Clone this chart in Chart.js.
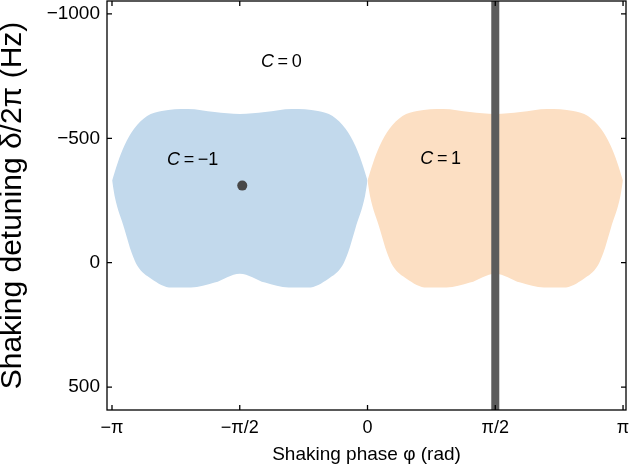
<!DOCTYPE html>
<html>
<head>
<meta charset="utf-8">
<script src="https://cdn.jsdelivr.net/npm/chart.js@4.4.1/dist/chart.umd.min.js"></script>
<style>body{margin:0;background:#fff}</style>
</head>
<body>
<canvas id="myChart" width="629" height="468"></canvas>
<script>
// C = -1 region (blue), upper and lower edges
var blueUpperX = [-3.14, -3.07, -2.99, -2.87, -2.71, -2.53, -2.21, -1.88, -1.57, -1.26, -0.93, -0.61, -0.43, -0.27, -0.15, -0.07, 0];
var blueUpperY = [-330, -403, -470, -538, -590, -610, -618, -606, -598, -606, -618, -610, -590, -538, -470, -403, -330];
var blueLowerX = [-3.14, -3.11, -2.99, -2.90, -2.83, -2.66, -2.41, -2.17, -1.88, -1.57, -1.26, -0.97, -0.73, -0.48, -0.31, -0.24, -0.15, -0.03, 0];
var blueLowerY = [-330, -269, -137, -40, 12, 64, 100, 100, 80, 44, 80, 100, 100, 64, 12, -40, -137, -269, -330];

// C = 1 region (orange)
var orangeUpperX = [0, 0.07, 0.15, 0.27, 0.43, 0.61, 0.93, 1.26, 1.57, 1.88, 2.21, 2.53, 2.71, 2.87, 2.99, 3.07, 3.14];
var orangeUpperY = [-330, -403, -470, -538, -590, -610, -618, -606, -598, -606, -618, -610, -590, -538, -470, -403, -330];
var orangeLowerX = [0, 0.03, 0.15, 0.24, 0.31, 0.48, 0.73, 0.97, 1.26, 1.57, 1.88, 2.17, 2.41, 2.66, 2.83, 2.90, 2.99, 3.11, 3.14];
var orangeLowerY = [-330, -269, -137, -40, 12, 64, 100, 100, 80, 44, 80, 100, 100, 64, 12, -40, -137, -269, -330];

// measured point and the phase cut at pi/2
var dotX = [-1.54];
var dotY = [-310];
var cutX = [Math.PI / 2, Math.PI / 2];
var cutY = [-1052, 592];

var xTickValues = [-Math.PI, -Math.PI / 2, 0, Math.PI / 2, Math.PI];
var xTickLabels = ["\u2212\u03c0", "\u2212\u03c0/2", "0", "\u03c0/2", "\u03c0"];
var yTickValues = [-1000, -500, 0, 500];

var regionLabels = [
    { x: -1.06, y: -807, text: "0" },
    { x: -2.15, y: -414, text: "\u22121" },
    { x: 0.90, y: -416, text: "1" }
];

let pts = (xs, ys) => xs.map((x, i) => ({ x: x, y: ys[i] }));

Chart.defaults.font.family = "'Liberation Sans', Arial, sans-serif";
Chart.defaults.color = "#000";

// frame + inward ticks on all four sides, and the C labels
const framePlugin = {
    id: "frame",
    afterDatasetsDraw(chart) {
        const ctx = chart.ctx;
        const a = chart.chartArea;
        const xs = chart.scales.x, ys = chart.scales.y;
        ctx.save();
        ctx.strokeStyle = "#000";
        ctx.lineWidth = 1.3;
        ctx.strokeRect(a.left, a.top, a.right - a.left, a.bottom - a.top);
        const tl = 5;
        ctx.beginPath();
        xTickValues.forEach((v) => {
            const px = xs.getPixelForValue(v);
            ctx.moveTo(px, a.bottom); ctx.lineTo(px, a.bottom - tl);
            ctx.moveTo(px, a.top); ctx.lineTo(px, a.top + tl);
        });
        yTickValues.forEach((v) => {
            const py = ys.getPixelForValue(v);
            ctx.moveTo(a.left, py); ctx.lineTo(a.left + tl, py);
            ctx.moveTo(a.right, py); ctx.lineTo(a.right - tl, py);
        });
        ctx.stroke();

        ctx.fillStyle = "#000";
        ctx.textBaseline = "middle";
        regionLabels.forEach((l) => {
            const italic = "italic 18px 'Liberation Sans', Arial, sans-serif";
            const normal = "18px 'Liberation Sans', Arial, sans-serif";
            const rest = "\u2009=\u2009" + l.text;
            ctx.font = italic;
            const w1 = ctx.measureText("C").width;
            ctx.font = normal;
            const w2 = ctx.measureText(rest).width;
            let px = xs.getPixelForValue(l.x) - (w1 + w2) / 2;
            const py = ys.getPixelForValue(l.y);
            ctx.textAlign = "left";
            ctx.font = italic;
            ctx.fillText("C", px, py);
            ctx.font = normal;
            ctx.fillText(rest, px + w1, py);
        });
        ctx.restore();
    }
};

const data = {
    datasets: [
        {
            data: pts(cutX, cutY),
            borderColor: "#5c5c5c",
            borderWidth: 8,
            pointRadius: 0,
            borderCapStyle: "butt"
        },
        {
            data: pts(dotX, dotY),
            showLine: false,
            pointRadius: 5,
            pointBackgroundColor: "#484848",
            pointBorderWidth: 0
        },
        {
            data: pts(orangeUpperX, orangeUpperY),
            borderWidth: 0,
            pointRadius: 0,
            backgroundColor: "#fcdfc3",
            cubicInterpolationMode: "monotone",
            fill: "+1"
        },
        {
            data: pts(orangeLowerX, orangeLowerY),
            borderWidth: 0,
            pointRadius: 0,
            cubicInterpolationMode: "monotone",
            fill: false
        },
        {
            data: pts(blueUpperX, blueUpperY),
            borderWidth: 0,
            pointRadius: 0,
            backgroundColor: "#c2d9ec",
            cubicInterpolationMode: "monotone",
            fill: "+1"
        },
        {
            data: pts(blueLowerX, blueLowerY),
            borderWidth: 0,
            pointRadius: 0,
            cubicInterpolationMode: "monotone",
            fill: false
        }
    ]
};

const config = {
    type: "line",
    data: data,
    options: {
        responsive: false,
        animation: false,
        devicePixelRatio: 1,
        layout: { autoPadding: false, padding: { top: 1, right: 3, left: 0, bottom: 0 } },
        plugins: { legend: { display: false }, tooltip: { enabled: false } },
        scales: {
            x: {
                type: "linear",
                min: -3.203,
                max: 3.178,
                grid: { display: false, drawTicks: false },
                border: { display: false },
                afterBuildTicks: (s) => { s.ticks = xTickValues.map((v) => ({ value: v })); },
                afterFit: (s) => { s.height = 58; s.paddingLeft = 0; s.paddingRight = 0; },
                ticks: {
                    padding: 7,
                    maxRotation: 0,
                    font: { size: 18 },
                    callback: (v) => {
                        const i = xTickValues.findIndex((t) => Math.abs(t - v) < 1e-6);
                        return i >= 0 ? xTickLabels[i] : "";
                    }
                },
                title: {
                    display: true,
                    text: "Shaking phase \u03c6 (rad)",
                    font: { size: 19, lineHeight: 1.2 },
                    padding: { top: 0, bottom: 2 }
                }
            },
            y: {
                type: "linear",
                reverse: true,
                min: -1052,
                max: 592,
                grid: { display: false, drawTicks: false },
                border: { display: false },
                afterBuildTicks: (s) => { s.ticks = yTickValues.map((v) => ({ value: v })); },
                afterFit: (s) => { s.width = 107; s.paddingTop = 0; s.paddingBottom = 0; },
                ticks: {
                    padding: 7,
                    font: { size: 19 },
                    callback: (v) => (v < 0 ? "\u2212" + Math.abs(v) : "" + v)
                },
                title: {
                    display: true,
                    text: "Shaking detuning \u03b4/2\u03c0 (Hz)",
                    font: { size: 30, lineHeight: 1 },
                    padding: { top: -2, bottom: 0 }
                }
            }
        }
    },
    plugins: [framePlugin]
};

const ctx = document.getElementById("myChart").getContext("2d");
let myChart = new Chart(ctx, config);
</script>
</body>
</html>
